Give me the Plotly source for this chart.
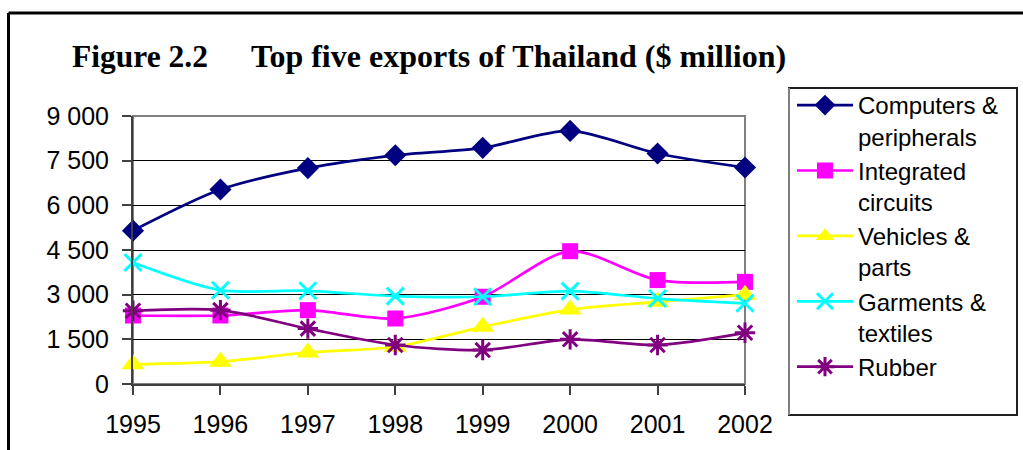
import plotly.graph_objects as go

years = [1995, 1996, 1997, 1998, 1999, 2000, 2001, 2002]
computers = [5150, 6530, 7250, 7680, 7930, 8500, 7740, 7270]
integrated = [2300, 2300, 2480, 2200, 2930, 4460, 3490, 3430]
vehicles = [660, 750, 1060, 1250, 1920, 2500, 2760, 3000]
garments = [4080, 3150, 3130, 2950, 2930, 3120, 2870, 2710]
rubber = [2460, 2480, 1860, 1310, 1140, 1500, 1310, 1720]

series_names = ["Computers &<br>peripherals", "Integrated<br>circuits", "Vehicles &<br>parts",
                "Garments &<br>textiles", "Rubber"]
ytick_vals = [0, 1500, 3000, 4500, 6000, 7500, 9000]
ytick_text = ["0", "1 500", "3 000", "4 500", "6 000", "7 500", "9 000"]

colors = ["#000080", "#FF00FF", "#FFFF00", "#00FFFF", "#800080"]
symbols = ["diamond", "square", "triangle-up", "x-thin-open", "asterisk-open"]
sizes = [17, 16, 20, 17, 17]
data = [computers, integrated, vehicles, garments, rubber]

fig = go.Figure()
for name, vals, c, s, sz in zip(series_names, data, colors, symbols, sizes):
    fig.add_trace(go.Scatter(
        x=years, y=vals, name=name, mode="lines+markers",
        line=dict(color=c, width=2.7, shape="spline", smoothing=0.8),
        marker=dict(symbol=s, size=sz, color=c, line=dict(color=c, width=3 if "open" in s else 0)),
    ))

W, H = 1023, 450
L, R, T, B = 133, 278, 116, 66
pw, ph = W - L - R, H - T - B

def px(x):
    return (x - L) / pw

def py(y):
    return (H - B - y) / ph

shapes = [
    dict(type="rect", xref="paper", yref="paper", x0=0, x1=1, y0=0, y1=1,
         line=dict(color="#808080", width=2), layer="below"),
    dict(type="line", xref="paper", yref="paper", x0=px(8.5), x1=px(8.5), y0=py(13), y1=py(455),
         line=dict(color="black", width=3)),
    dict(type="line", xref="paper", yref="paper", x0=px(8.5), x1=px(1030), y0=py(13), y1=py(13),
         line=dict(color="black", width=3)),
    dict(type="rect", xref="paper", yref="paper", x0=px(789), x1=px(1017), y0=py(415), y1=py(88),
         line=dict(color="#202020", width=2)),
    dict(type="line", xref="paper", yref="paper", x0=px(789), x1=px(789), y0=py(415), y1=py(88),
         line=dict(color="#808080", width=2)),
]

annotations = [
    dict(text="<b>Figure 2.2</b>", xref="paper", yref="paper", x=px(70), y=py(56),
         xanchor="left", yanchor="middle", showarrow=False,
         font=dict(family="Liberation Serif", size=31.5, color="black")),
    dict(text="<b>Top five exports of Thailand ($ million)</b>", xref="paper", yref="paper",
         x=px(249), y=py(56), xanchor="left", yanchor="middle", showarrow=False,
         font=dict(family="Liberation Serif", size=32, color="black")),
]

fig.update_layout(
    width=W, height=H,
    margin=dict(l=L, r=R, t=T, b=B, pad=0),
    paper_bgcolor="white", plot_bgcolor="white",
    font=dict(family="Liberation Sans", size=25, color="black"),
    showlegend=True,
    legend=dict(x=px(792), y=py(83), xanchor="left", yanchor="top",
                bgcolor="rgba(0,0,0,0)", borderwidth=0,
                font=dict(family="Liberation Sans", size=24, color="black"),
                valign="top", itemwidth=56, tracegroupgap=0, traceorder="normal"),
    shapes=shapes, annotations=annotations,
    xaxis=dict(range=[1995, 2002], tickvals=years, ticks="outside", ticklen=9, tickwidth=1.5,
               tickcolor="#404040", showline=True, linecolor="#404040", linewidth=2,
               showgrid=False, zeroline=False, fixedrange=True, ticklabelstandoff=8,
               tickfont=dict(family="Liberation Sans", size=25)),
    yaxis=dict(range=[0, 9000], tickvals=ytick_vals, ticktext=ytick_text, ticks="outside",
               ticklen=9, tickwidth=1.5, tickcolor="#404040", showline=True,
               linecolor="#404040", linewidth=2, showgrid=True, gridcolor="#000000",
               gridwidth=1, zeroline=False, ticklabelstandoff=8,
               tickfont=dict(family="Liberation Sans", size=25)),
)
try:
    fig.update_layout(legend_maxheight=400)
except Exception:
    pass
fig.update_traces(cliponaxis=False)

fig.write_html("out.html")
